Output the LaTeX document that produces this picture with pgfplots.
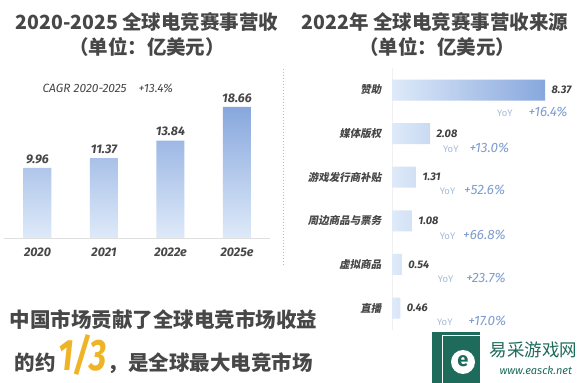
\documentclass[border=0pt]{standalone}
\usepackage{fontspec}
\setmainfont{Fira Sans}
\newfontfamily\cjk{Noto Sans CJK SC}
\newfontfamily\cjksl{Noto Sans CJK SC}[FakeSlant=0.18]
\newfontfamily\numfont{Fira Sans}[FakeStretch=0.76]
\usepackage{pgfplots}
\pgfplotsset{compat=1.18}
\definecolor{tgray}{HTML}{474747}
\definecolor{bardark}{HTML}{87A7DD}
\definecolor{barlight}{HTML}{DEEAF9}
\definecolor{yoyc}{HTML}{A7BBD9}
\definecolor{pctc}{HTML}{7F9DD0}
\definecolor{gold}{HTML}{EFB324}
\definecolor{wteal}{HTML}{1E6B5C}
\pgfplotsset{/pgf/number format/assume math mode=true}
\newcommand{\yoy}[2]{{\color{yoyc}\fontsize{9.5}{11}\selectfont YoY}\hspace{#1}{\color{pctc}\itshape\fontsize{13.5}{15}\selectfont #2}}
\begin{document}
\begin{tikzpicture}
\path[use as bounding box, fill=white] (0pt,0pt) rectangle (584pt,383pt);
% titles
\node[font=\cjk\bfseries\fontsize{19.5}{22}\selectfont, text=tgray] at (147pt,361pt) {2020-2025 全球电竞赛事营收};
\node[font=\cjk\bfseries\fontsize{19.5}{22}\selectfont, text=tgray] at (147pt,336pt) {（单位：亿美元）};
\node[font=\cjk\bfseries\fontsize{19.5}{22}\selectfont, text=tgray] at (435pt,361pt) {2022年 全球电竞赛事营收来源};
\node[font=\cjk\bfseries\fontsize{19.5}{22}\selectfont, text=tgray] at (437pt,336pt) {（单位：亿美元）};
% CAGR
\node[anchor=west, font=\itshape\fontsize{12}{14}\selectfont, text=tgray] at (39pt,295pt) {CAGR 2020-2025\hspace{12pt}+13.4\%};
% separator
\draw[dash pattern=on 1.5pt off 1.5pt, color=yoyc, line width=0.9pt] (283pt,314pt) -- (283pt,118pt);

% left chart
\begin{axis}[
  at={(4.25pt,145pt)}, anchor=south west,
  scale only axis, width=266pt, height=140.6pt,
  xmin=-0.5, xmax=3.5, ymin=0, ymax=20,
  axis x line=bottom, axis y line=none,
  x axis line style={draw=gray!25, -},
  xtick={0,1,2,3}, xticklabels={2020,2021,2022e,2025e},
  xtick style={draw=none},
  xticklabel style={font=\bfseries\itshape\fontsize{12.5}{14}\selectfont, text=tgray, yshift=-4pt},
  clip=false,
]
\addplot[ybar, bar width=28pt, draw=none, top color=bardark, bottom color=barlight,
  nodes near coords={\pgfmathprintnumber[fixed,fixed zerofill,precision=2]{\pgfplotspointmeta}},
  every node near coord/.append style={font=\bfseries\itshape\fontsize{12.5}{14}\selectfont, text=tgray, yshift=1pt}]
  coordinates {(0,9.96) (1,11.37) (2,13.84) (3,18.66)};
\end{axis}

% right chart
\begin{axis}[
  at={(392pt,53.2pt)}, anchor=south west,
  scale only axis, width=183pt, height=261.6pt,
  xmin=0, xmax=10, ymin=-0.5, ymax=5.5, y dir=reverse,
  axis x line=none, axis y line=left,
  y axis line style={draw=gray!12, -},
  ytick={0,1,2,3,4,5},
  yticklabels={赞助,媒体版权,游戏发行商补贴,周边商品与票务,虚拟商品,直播},
  ytick style={draw=none},
  yticklabel style={font=\cjksl\bfseries\fontsize{10.5}{12}\selectfont, text=tgray, xshift=-5pt},
  clip=false,
]
\addplot[xbar, bar width=21pt, draw=none, left color=barlight, right color=bardark,
  nodes near coords={\pgfmathprintnumber[fixed,fixed zerofill,precision=2]{\pgfplotspointmeta}},
  every node near coord/.append style={font=\bfseries\itshape\fontsize{11}{13}\selectfont, text=black!75, xshift=3pt}]
  coordinates {(8.37,0) (2.08,1) (1.31,2) (1.08,3) (0.54,4) (0.46,5)};
\node[anchor=east, inner sep=0pt] at (axis cs:9.6,0.5) {\yoy{16pt}{+16.4\%}};
\node[anchor=west, inner sep=0pt] at (axis cs:2.78,1.33) {\yoy{11pt}{+13.0\%}};
\node[anchor=west, inner sep=0pt] at (axis cs:2.6,2.3) {\yoy{9pt}{+52.6\%}};
\node[anchor=west, inner sep=0pt] at (axis cs:2.6,3.33) {\yoy{8pt}{+66.8\%}};
\node[anchor=west, inner sep=0pt] at (axis cs:2.5,4.3) {\yoy{13pt}{+23.7\%}};
\node[anchor=west, inner sep=0pt] at (axis cs:2.45,5.3) {\yoy{16pt}{+17.0\%}};
\end{axis}

% bottom text
\node[anchor=base west, font=\cjk\bfseries\fontsize{20.5}{22}\selectfont, text=tgray] at (6pt,55pt) {中国市场贡献了全球电竞市场收益};
\node[anchor=base west, font=\cjk\bfseries\fontsize{20.5}{22}\selectfont, text=tgray] at (11pt,12pt) {的约\hspace{3pt}{\numfont\itshape\fontsize{44}{44}\selectfont\color{gold}1/3}\hspace{1pt}，是全球最大电竞市场};

% watermark
\fill[wteal] (432pt,0pt) rectangle (480pt,51pt);
\draw[white, line width=1pt] (442pt,0pt) -- (442pt,47pt) -- (480pt,47pt);
\fill[white] (463pt,21pt) circle (12pt);
\node[text=wteal, font=\bfseries\fontsize{20}{20}\selectfont] at (463pt,22pt) {e};
\node[anchor=west, text=wteal, font=\cjk\fontsize{17.5}{19}\selectfont] at (486pt,33pt) {易采游戏网};
\node[anchor=west, text=wteal, font=\itshape\fontsize{11}{12}\selectfont] at (496pt,13pt) {www.easck.net};
\end{tikzpicture}
\end{document}
